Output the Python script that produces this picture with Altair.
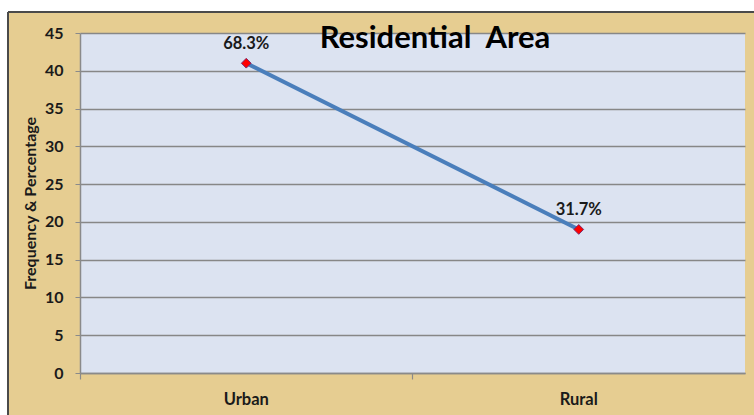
import altair as alt
import pandas as pd

categories = ["Urban", "Rural"]
frequency = [41, 19]
percent_labels = ["68.3%", "31.7%"]
y_ticks = [0, 5, 10, 15, 20, 25, 30, 35, 40, 45]
title_text = "Residential\u00a0 Area"

df = pd.DataFrame({"area": categories, "freq": frequency, "pct": percent_labels})

FONT = "Lato"

x_enc = alt.X(
    "area:N",
    sort=categories,
    bandPosition=0.5,
    scale=alt.Scale(type="band", paddingInner=0, paddingOuter=0),
    axis=alt.Axis(
        title=None, labelAngle=0, bandPosition=0, grid=False,
        labelFont=FONT, labelFontWeight="bold", labelFontSize=16.5, labelColor="#1a1a1a",
        labelPadding=12, tickSize=6, tickColor="#8a8a8a", domainColor="#8a8a8a",
        domainWidth=1.5, tickWidth=1.2,
    ),
)
y_enc = alt.Y(
    "freq:Q",
    scale=alt.Scale(domain=[0, 45], nice=False),
    axis=alt.Axis(
        title="Frequency & Percentage", values=y_ticks, grid=True,
        gridColor="#878787", gridWidth=1.6,
        labelFont=FONT, labelFontWeight="bold", labelFontSize=16, labelColor="#1a1a1a",
        labelPadding=12, tickSize=5, tickColor="#8a8a8a", domainColor="#8a8a8a",
        domainWidth=1.5, titleFont=FONT, titleFontWeight="bold", titleFontSize=16,
        titleColor="#1a1a1a", titlePadding=6,
    ),
)

# decorative page frame (white margin strip + dark border line), outside the plot area
frame_base = alt.Chart(df.head(1))
white_top = frame_base.mark_rect(color="white").encode(
    x=alt.value(-80), x2=alt.value(674), y=alt.value(-33), y2=alt.value(-21)
)
white_left = frame_base.mark_rect(color="white").encode(
    x=alt.value(-80), x2=alt.value(-72), y=alt.value(-33), y2=alt.value(382)
)
border_top = frame_base.mark_rule(color="#4a4a4a", strokeWidth=2).encode(
    x=alt.value(-72), x2=alt.value(674), y=alt.value(-21)
)
border_left = frame_base.mark_rule(color="#4a4a4a", strokeWidth=2).encode(
    x=alt.value(-72), y=alt.value(-21), y2=alt.value(382)
)

# chart title, drawn inside the plot area like the reference
title = frame_base.mark_text(
    font=FONT, fontSize=31, fontWeight="bold", color="#000000", align="center", baseline="alphabetic"
).encode(x=alt.value(355), y=alt.value(15), text=alt.value(title_text))

line = alt.Chart(df).mark_line(color="#4A7EBB", strokeWidth=4).encode(x=x_enc, y=y_enc)
pts = alt.Chart(df).mark_point(
    shape="diamond", filled=True, fill="#FF0000", stroke="#7a2a6a", strokeWidth=1, size=95, opacity=1
).encode(x=x_enc, y=y_enc)
txt = alt.Chart(df).mark_text(
    dy=-19, font=FONT, fontWeight="bold", fontSize=16.5, color="#1a1a1a"
).encode(x=x_enc, y=y_enc, text="pct:N")

chart = alt.layer(line, pts, txt, title, white_top, white_left, border_top, border_left).properties(
    width=665,
    height=340,
    autosize=alt.AutoSizeParams(type="none"),
    padding={"left": 80, "top": 33, "right": 9, "bottom": 42},
    background="#E6CD91",
).configure_view(fill="#DCE3F1", stroke=None)

chart.save("out.html", embed_options={"renderer": "svg", "actions": False})
